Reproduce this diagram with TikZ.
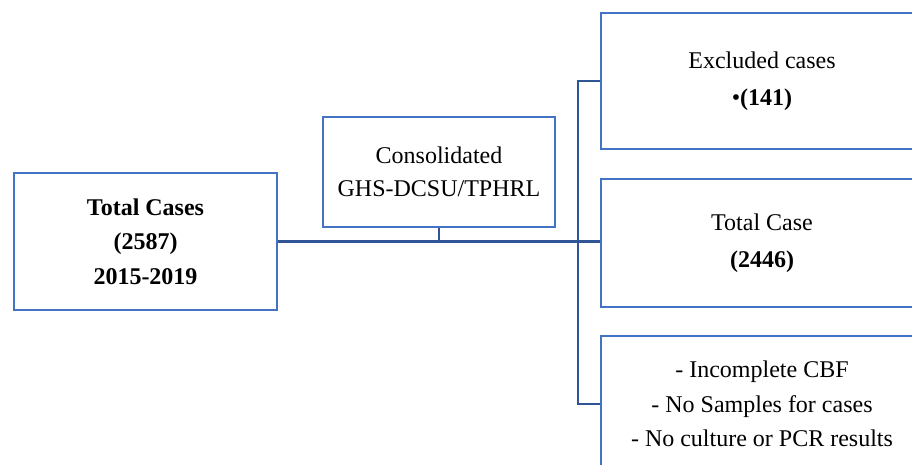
\documentclass[tikz,border=0pt]{standalone}
\usepackage{fontspec}
\setmainfont{Liberation Serif}
\definecolor{boxblue}{HTML}{4472C4}
\definecolor{lineblue}{HTML}{2F5597}
\begin{document}
\begin{tikzpicture}[x=1pt,y=-1pt,
  box/.style={draw=boxblue,line width=2pt,fill=white,align=center,inner sep=0pt,
    font=\fontsize{24}{34.5}\selectfont},
  widebox/.style={box,font=\fontsize{24}{37.5}\selectfont},
  conn/.style={draw=lineblue,line width=2.2pt}]
\useasboundingbox (0,0) rectangle (912,464);
\clip (0,0) rectangle (912,464);
\node[box,minimum width=263pt,minimum height=137pt] (left) at (145.5,241.5)
  {\textbf{Total Cases}\\\textbf{(2587)}\\\textbf{2015-2019}};
\node[box,minimum width=232pt,minimum height=110pt,font=\fontsize{24}{33}\selectfont] (cons) at (439,172)
  {Consolidated\\GHS-DCSU/TPHRL};
\node[widebox,minimum width=322pt,minimum height=136pt] (top) at (762,81)
  {Excluded cases\\•\textbf{(141)}};
\node[widebox,minimum width=322pt,minimum height=128pt] (mid) at (762,243)
  {Total Case\\\textbf{(2446)}};
\node[box,minimum width=322pt,minimum height=136pt] (bot) at (762,404)
  {- Incomplete CBF\\- No Samples for cases\\- No culture or PCR results};
\coordinate (brk) at (578,0);
\draw[conn] (left.east) -- (left.east -| mid.west);
\draw[conn,line width=1.6pt] (cons.south) -- (cons.south |- left.east);
\draw[conn,line width=1.8pt] (top.west) -- (top.west -| brk) -- (bot.west -| brk) -- (bot.west);
\end{tikzpicture}
\end{document}
